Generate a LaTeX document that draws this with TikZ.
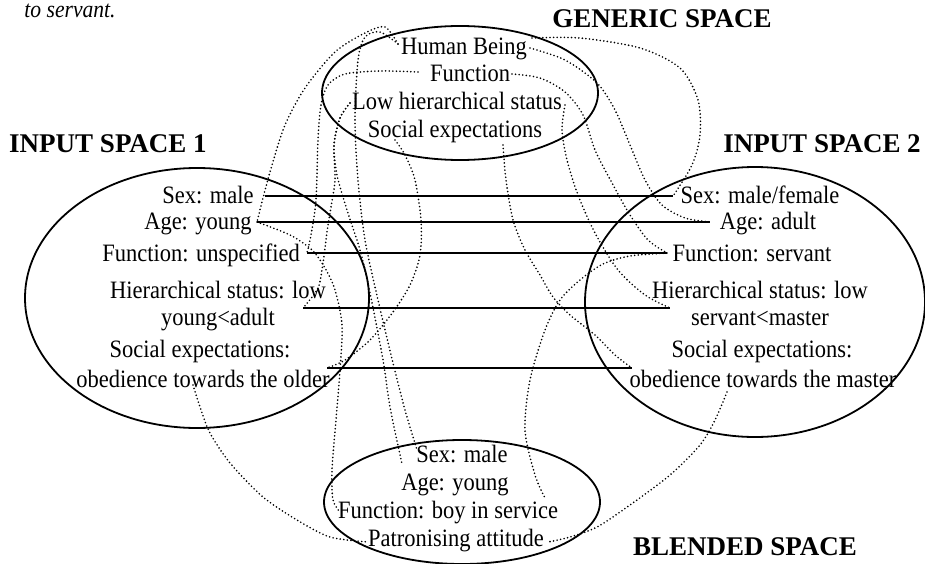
\documentclass[tikz,border=0pt]{standalone}
\usepackage{fontspec}
\setmainfont{Liberation Serif}
\newfontfamily\bodyfont[FakeStretch=0.9]{Liberation Serif}
\begin{document}
\begin{tikzpicture}[x=1pt,y=-1pt,
  txt/.style={font=\bodyfont\fontsize{25}{27}\selectfont, inner sep=0pt, anchor=base},
  ttl/.style={font=\fontsize{27}{29}\selectfont\bfseries, inner sep=0pt, anchor=base},
  space/.style={line width=1.8pt},
  link/.style={line width=1.7pt},
  dots/.style={line width=1.8pt, line cap=round, dash pattern=on 0pt off 3.6pt}
]
\useasboundingbox (0,0) rectangle (925,564);
% ellipses
\draw[space] (460,93) ellipse [x radius=138, y radius=67];
\draw[space] (197,298) ellipse [x radius=172, y radius=130];
\draw[space] (755,302) ellipse [x radius=170, y radius=135];
\draw[space] (462,502) ellipse [x radius=138, y radius=62];
% titles
\node[font=\bodyfont\fontsize{24}{26}\selectfont\itshape, inner sep=0pt, anchor=base] (cap) at (70,18) {to servant.};
\node[ttl] (tg) at (662,28) {GENERIC SPACE};
\node[ttl] (t1) at (108,153) {INPUT SPACE 1};
\node[ttl] (t2) at (822,153) {INPUT SPACE 2};
\node[ttl] (tb) at (745,555) {BLENDED SPACE};
% generic
\node[txt] (ghb) at (464,55) {Human Being};
\node[txt] (gfn) at (470,82) {Function};
\node[txt] (glo) at (457,110) {Low hierarchical status};
\node[txt] (gso) at (455,138) {Social expectations};
% input 1
\node[txt] (asex) at (208,203) {Sex: male};
\node[txt] (aage) at (198,229) {Age: young};
\node[txt] (afn) at (201,261) {Function: unspecified};
\node[txt] (ahi) at (218,298) {Hierarchical status: low};
\node[txt] (ahi2) at (218,325) {young<adult};
\node[txt] (aso) at (200,357) {Social expectations:};
\node[txt] (aso2) at (203,387) {obedience towards the older};
% input 2
\node[txt] (bsex) at (760,203) {Sex: male/female};
\node[txt] (bage) at (768,229) {Age: adult};
\node[txt] (bfn) at (752,261) {Function: servant};
\node[txt] (bhi) at (760,298) {Hierarchical status: low};
\node[txt] (bhi2) at (760,325) {servant<master};
\node[txt] (bso) at (762,357) {Social expectations:};
\node[txt] (bso2) at (763,387) {obedience towards the master};
% blended
\node[txt] (csex) at (462,462) {Sex: male};
\node[txt] (cage) at (455,490) {Age: young};
\node[txt] (cfn) at (448,518) {Function: boy in service};
\node[txt] (cpa) at (456,546) {Patronising attitude};
% endpoints of solid links
\coordinate (a1) at (265,196); \coordinate (b1) at (673,196);
\coordinate (a2) at (257,222); \coordinate (b2) at (710,222);
\coordinate (a3) at (307,253); \coordinate (b3) at (667,253);
\coordinate (a4) at (303,308); \coordinate (b4) at (670,308);
\coordinate (a5) at (327,368); \coordinate (b5) at (632,368);
\draw[link] (a1) -- (b1);
\draw[link] (a2) -- (b2);
\draw[link] (a3) -- (b3);
\draw[link] (a4) -- (b4);
\draw[link] (a5) -- (b5);
% dotted endpoints
\coordinate (hbl) at (398,44);
\coordinate (hbr) at (530,48);
\coordinate (hbt) at (532,38);
\coordinate (fnl) at (418,72);
\coordinate (fnr) at (512,74);
\coordinate (lol) at (350,103);
\coordinate (lor) at (565,105);
\coordinate (sol) at (395,140);
\coordinate (sor) at (503,145);
\coordinate (cs) at (417,450);
\coordinate (ca) at (402,464);
\coordinate (cf) at (340,512);
\coordinate (cfr) at (545,498);
\coordinate (cpl) at (368,542);
\coordinate (cpr) at (548,542);
\coordinate (ao) at (193,385);
\coordinate (bo) at (727,392);
% dotted connectors
\draw[dots] plot[smooth] coordinates {(hbl) (385,27) (365,33) (335,52) (305,88) (285,125) (272,165) (263,198) (a2)};
\draw[dots] plot[smooth] coordinates {(hbl) (380,32) (365,37) (358,60) (355,120) (358,180) (365,240) (378,300) (393,363) (405,410) (cs)};
\draw[dots] plot[smooth] coordinates {(fnl) (380,71) (345,74) (328,85) (321,105) (318,140) (316,200) (311,235) (a3)};
\draw[dots] plot[smooth] coordinates {(lol) (340,118) (334,145) (337,175) (347,210) (360,250) (370,293) (383,360) (390,407) (ca)};
\draw[dots] plot[smooth] coordinates {(lol) (340,118) (334,145) (335,180) (331,207) (327,232) (323,263) (318,288) (a4)};
\draw[dots] plot[smooth] coordinates {(sol) (405,155) (415,180) (421,220) (420,255) (410,285) (393,312) (370,340) (345,360) (a5)};
\draw[dots] plot[smooth] coordinates {(a2) (290,235) (312,250) (325,268) (335,290) (342,325) (340,370) (336,420) (332,470) (333,500) (cf)};
\draw[dots] plot[smooth] coordinates {(ao) (200,407) (210,433) (230,463) (263,497) (297,520) (330,537) (cpl)};
\draw[dots] plot[smooth] coordinates {(hbt) (580,38) (640,48) (680,68) (698,100) (700,135) (692,165) (b1)};
\draw[dots] plot[smooth] coordinates {(hbr) (565,60) (597,83) (615,110) (630,145) (645,180) (662,205) (685,218) (b2)};
\draw[dots] plot[smooth] coordinates {(fnr) (540,78) (565,92) (583,115) (595,150) (612,183) (630,215) (648,240) (b3)};
\draw[dots] plot[smooth] coordinates {(lor) (562,130) (567,160) (578,195) (595,233) (618,270) (645,295) (b4)};
\draw[dots] plot[smooth] coordinates {(sor) (506,180) (513,220) (525,250) (540,275) (553,297) (570,315) (595,335) (615,355) (b5)};
\draw[dots] plot[smooth] coordinates {(b3) (630,256) (603,264) (580,280) (560,300) (545,330) (530,380) (525,430) (535,475) (cfr)};
\draw[dots] plot[smooth] coordinates {(bo) (715,420) (700,445) (670,475) (630,505) (597,527) (570,537) (cpr)};
\end{tikzpicture}
\end{document}
